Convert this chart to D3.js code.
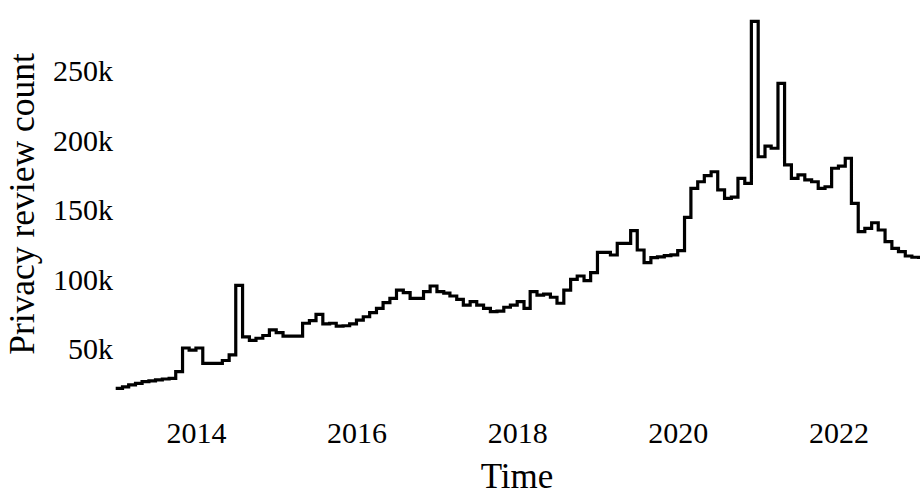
<!DOCTYPE html>
<html>
<head>
<meta charset="utf-8">
<script src="https://cdn.jsdelivr.net/npm/d3@7/dist/d3.min.js"></script>
<style>
  html, body { margin: 0; padding: 0; background: #fff; }
  svg { display: block; }
  text { font-family: "Liberation Serif", "Times New Roman", serif; fill: #000; }
</style>
</head>
<body>
<div id="chart"></div>
<script>
// ---- data ----
const startMonth = "2013-01";
const endMonth = "2023-01";
// monthly privacy review counts (thousands), Jan 2013 .. Jan 2023
const reviewCountK = [
  21, 22, 23.4, 24.6, 25.8, 26.3, 27, 27.7, 28.2, 33, 50, 48.5,          // 2013
  50, 39, 39, 39, 41, 45, 95, 58, 55.5, 57, 59, 63,                      // 2014
  61, 58.6, 58.6, 58.6, 67.8, 69.7, 74.2, 67.3, 67.8, 65.8, 66, 67.3,    // 2015
  70.1, 72.5, 75.4, 78.5, 82.6, 85.7, 91.7, 89.8, 85.7, 85.7, 90.5, 94.6,// 2016
  90.5, 89.5, 87.4, 85, 80.9, 83.3, 80.9, 78.5, 76.1, 76.5, 79.3, 80.9,  // 2017
  83.3, 78.5, 90.5, 88.1, 88.8, 86.5, 82.2, 91.7, 99.4, 101.8, 98.4, 104.2, // 2018
  118.8, 118.8, 116.9, 125.3, 125.3, 134.4, 120.5, 111.4, 115, 115.5, 116.5, 117, // 2019
  120, 144, 164.9, 169.6, 174, 176.8, 163.7, 157.7, 158.5, 172.1, 168.5, 285,     // 2020
  187.6, 195.3, 193.7, 240.4, 181.7, 172.1, 174.5, 170.9, 169.6, 164.9, 166, 179.3, // 2021
  180.9, 186.5, 154.1, 133.7, 136.1, 140.1, 134.9, 126.5, 121.7, 119.3, 116.2, 115.3, // 2022
  114                                                                     // 2023-01
];
const yTickValues = [50000, 100000, 150000, 200000, 250000];
const xTickYears = [2014, 2016, 2018, 2020, 2022];
const xTitle = "Time";
const yTitle = "Privacy review count";

// ---- build ----
const W = 920, H = 501;
const parseMonth = d3.timeParse("%Y-%m");
const months = d3.timeMonth.range(parseMonth(startMonth), d3.timeMonth.offset(parseMonth(endMonth), 1));
const data = months.map((d, i) => ({ date: d, value: reviewCountK[i] * 1000 }));

const svg = d3.select("#chart").append("svg").attr("width", W).attr("height", H);

const x = d3.scaleTime()
  .domain([parseMonth(startMonth), parseMonth(endMonth)])
  .range([115.7, 918.7]);
const y = d3.scaleLinear()
  .domain([0, 250000])
  .range([417.5, 70]);

const line = d3.line()
  .x(d => x(d.date))
  .y(d => y(d.value))
  .curve(d3.curveStepAfter);

svg.append("path")
  .datum(data)
  .attr("fill", "none")
  .attr("stroke", "#000")
  .attr("stroke-width", 3.2)
  .attr("stroke-linejoin", "miter")
  .attr("d", line);

// y axis (labels only)
const yAxis = d3.axisLeft(y)
  .tickValues(yTickValues)
  .tickSize(0)
  .tickPadding(0)
  .tickFormat(d => (d / 1000) + "k");
const gy = svg.append("g").attr("transform", "translate(113,0)").call(yAxis);
gy.select(".domain").remove();
gy.selectAll("text")
  .attr("font-size", 30)
  .attr("font-family", "Liberation Serif, serif")
  .attr("fill", "#000")
  .attr("x", 0)
  .attr("dy", "0.35em");

// x axis (labels only)
const xAxis = d3.axisBottom(x)
  .tickValues(xTickYears.map(yr => new Date(yr, 0, 1)))
  .tickSize(0)
  .tickPadding(0)
  .tickFormat(d3.timeFormat("%Y"));
const gx = svg.append("g").attr("transform", "translate(0,443)").call(xAxis);
gx.select(".domain").remove();
gx.selectAll("text")
  .attr("font-size", 30)
  .attr("font-family", "Liberation Serif, serif")
  .attr("fill", "#000")
  .attr("y", 0)
  .attr("dy", 0);

// titles
svg.append("text")
  .attr("x", 517)
  .attr("y", 488)
  .attr("text-anchor", "middle")
  .attr("font-size", 35)
  .text(xTitle);

svg.append("text")
  .attr("transform", "translate(34,204) rotate(-90)")
  .attr("text-anchor", "middle")
  .attr("font-size", 35.5)
  .text(yTitle);
</script>
</body>
</html>
